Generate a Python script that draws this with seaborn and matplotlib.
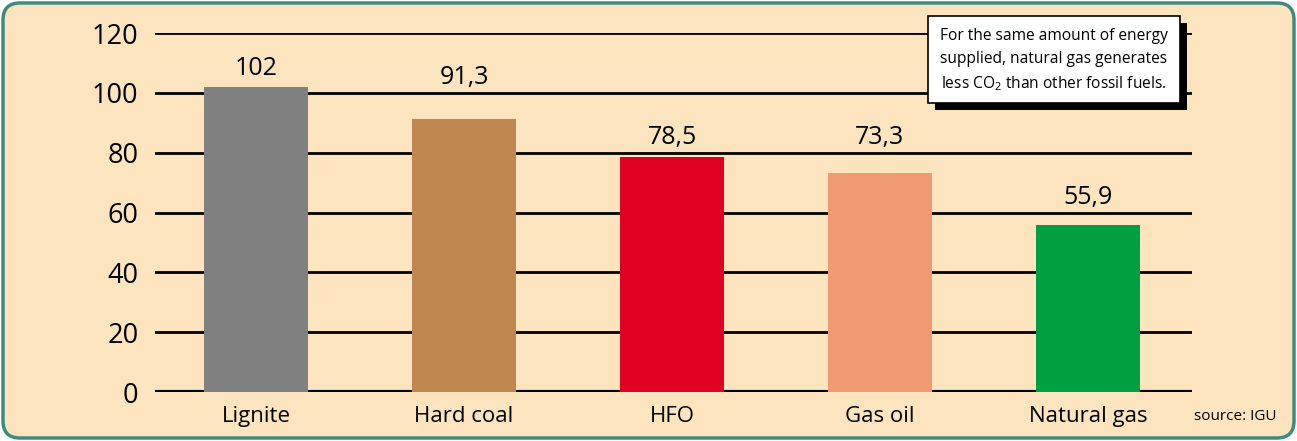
import numpy as np
import pandas as pd
import matplotlib
matplotlib.use('Agg')
import matplotlib.pyplot as plt
import seaborn as sns
from matplotlib.patches import FancyBboxPatch, Rectangle

# data
fuels = ['Lignite', 'Hard coal', 'HFO', 'Gas oil', 'Natural gas']
co2_values = [102, 91.3, 78.5, 73.3, 55.9]
value_labels = ['102', '91,3', '78,5', '73,3', '55,9']
bar_colors = ['#808080', '#C08850', '#E00022', '#F09A72', '#00A040']
y_ticks = [0, 20, 40, 60, 80, 100, 120]

sns.set_theme(style='white')
plt.rcParams['font.family'] = ['Open Sans', 'DejaVu Sans']
plt.rcParams['mathtext.fontset'] = 'custom'
plt.rcParams['mathtext.rm'] = 'Open Sans'
plt.rcParams['mathtext.default'] = 'rm'

bg = '#FCE5BE'
fig = plt.figure(figsize=(12.97, 4.41), dpi=100)
fig.patch.set_facecolor('white')

# rounded panel (inches)
panel = FancyBboxPatch((0.03, 0.03), 12.91, 4.35,
                       boxstyle='round,pad=0,rounding_size=0.17',
                       transform=fig.dpi_scale_trans, facecolor=bg,
                       edgecolor='#3F8C7E', linewidth=2.5, zorder=-5)
fig.patches.append(panel)

ax = fig.add_axes([0.1195, 0.111, 0.7995, 0.814])
ax.set_facecolor('none')
ax.set_zorder(1)

df = pd.DataFrame({'fuel': fuels, 'value': co2_values})
sns.barplot(data=df, x='fuel', y='value', hue='fuel', palette=bar_colors,
            width=0.5, legend=False, ax=ax, zorder=3, saturation=1, linewidth=0)

for y in y_ticks:
    ax.axhline(y, color='black', lw=3 if y == 0 else 2, zorder=1)

# labels sit just above the next gridline (or just above the bar if no room)
for i, (v, lab) in enumerate(zip(co2_values, value_labels)):
    g = np.ceil(v / 20) * 20
    base = g + 3 if g < 110 else v + 4
    ax.text(i, base, lab, ha='center', va='baseline', fontsize=18, color='black')

ax.set_xlim(-0.486, 4.5)
ax.set_ylim(0, 120)
ax.set_yticks(y_ticks)
ax.set_yticklabels([str(t) for t in y_ticks], fontsize=19.5)
ax.tick_params(axis='y', length=0, pad=12, labelcolor='black')
ax.tick_params(axis='x', length=0, pad=10, labelsize=16, labelcolor='black')
ax.set_xlabel('')
ax.set_ylabel('')
for s in ax.spines.values():
    s.set_visible(False)

# note box with shadow
bx0, by0, bw, bh = 928 / 1297, 1 - 103 / 441, 252 / 1297, 87 / 441
fig.patches.append(Rectangle((bx0 + 7 / 1297, by0 - 7 / 441), bw, bh,
                             transform=fig.transFigure, facecolor='black',
                             edgecolor='none', zorder=10))
fig.patches.append(Rectangle((bx0, by0), bw, bh, transform=fig.transFigure,
                             facecolor='white', edgecolor='black', lw=1.2, zorder=11))
fig.text(bx0 + bw / 2, by0 + bh / 2 - 1 / 441,
         'For the same amount of energy\nsupplied, natural gas generates\nless CO$_{2}$ than other fossil fuels.',
         ha='center', va='center', fontsize=11.2, linespacing=1.55, zorder=12,
         color='black')

fig.text(1276 / 1297, 1 - 416 / 441, 'source: IGU', ha='right', va='center',
         fontsize=11, color='black')

fig.savefig('out.png', dpi=100, facecolor=fig.get_facecolor())
